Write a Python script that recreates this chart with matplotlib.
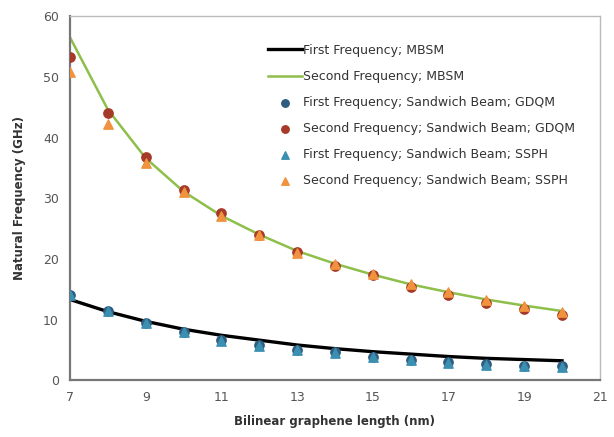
import numpy as np
import matplotlib
matplotlib.use("Agg")
import matplotlib.pyplot as plt

# ==== Data ====
length_nm = [7, 8, 9, 10, 11, 12, 13, 14, 15, 16, 17, 18, 19, 20]

first_mbsm = [13.3, 11.3, 9.7, 8.4, 7.4, 6.6, 5.8, 5.2, 4.7, 4.3, 3.9, 3.6, 3.4, 3.2]
second_mbsm = [56.5, 44.6, 36.6, 31.1, 27.1, 24.0, 21.3, 19.2, 17.4, 15.8, 14.5, 13.3, 12.3, 11.4]

first_gdqm = [14.0, 11.4, 9.5, 8.0, 6.7, 5.8, 5.0, 4.6, 3.9, 3.4, 3.0, 2.6, 2.4, 2.3]
second_gdqm = [53.3, 44.0, 36.8, 31.3, 27.5, 23.9, 21.1, 18.9, 17.3, 15.4, 14.0, 12.7, 11.7, 10.7]

first_ssph = [14.0, 11.4, 9.4, 7.9, 6.5, 5.6, 4.9, 4.5, 3.8, 3.3, 2.9, 2.5, 2.3, 2.2]
second_ssph = [50.8, 42.3, 35.8, 31.0, 27.0, 24.0, 21.0, 19.1, 17.5, 15.8, 14.5, 13.2, 12.2, 11.3]

x_ticks = [7, 9, 11, 13, 15, 17, 19, 21]
y_ticks = [0, 10, 20, 30, 40, 50, 60]

# ==== Figure ====
fig = plt.figure(figsize=(6.14, 4.37), dpi=100)
ax = fig.add_axes([0.114, 0.130, 0.863, 0.833])

ax.plot(length_nm, first_mbsm, color="black", lw=2.4, label="First Frequency; MBSM", zorder=2)
ax.plot(length_nm, second_mbsm, color="#8dbf4a", lw=1.8, label="Second Frequency; MBSM", zorder=2)
ax.scatter(length_nm, first_gdqm, marker="o", s=45, color="#2f5d7f", label="First Frequency; Sandwich Beam; GDQM", zorder=3)
ax.scatter(length_nm, second_gdqm, marker="o", s=45, color="#a63a28", label="Second Frequency; Sandwich Beam; GDQM", zorder=3)
ax.scatter(length_nm, first_ssph, marker="^", s=45, color="#3b8fb0", label="First Frequency; Sandwich Beam; SSPH", zorder=4)
ax.scatter(length_nm, second_ssph, marker="^", s=45, color="#f0923e", label="Second Frequency; Sandwich Beam; SSPH", zorder=4)

ax.set_xlim(7, 21)
ax.set_ylim(0, 60)
ax.set_xticks(x_ticks)
ax.set_yticks(y_ticks)
ax.tick_params(length=0, labelsize=9, colors="#555555", pad=8)

for side in ["top", "right"]:
    ax.spines[side].set_color("#bbbbbb")
    ax.spines[side].set_linewidth(1.0)
for side in ["left", "bottom"]:
    ax.spines[side].set_color("#777777")
    ax.spines[side].set_linewidth(1.6)

ax.set_xlabel("Bilinear graphene length (nm)", fontsize=8.5, fontweight="bold", color="#333333", labelpad=8)
ax.set_ylabel("Natural Frequency (GHz)", fontsize=8.5, fontweight="bold", color="#333333", labelpad=12)

leg = ax.legend(loc="upper right", bbox_to_anchor=(0.975, 0.955), frameon=False, fontsize=9,
                labelspacing=1.05, handlelength=2.7, handletextpad=0.15, markerscale=0.8,
                labelcolor="#333333")

fig.savefig("out.png", dpi=100)
